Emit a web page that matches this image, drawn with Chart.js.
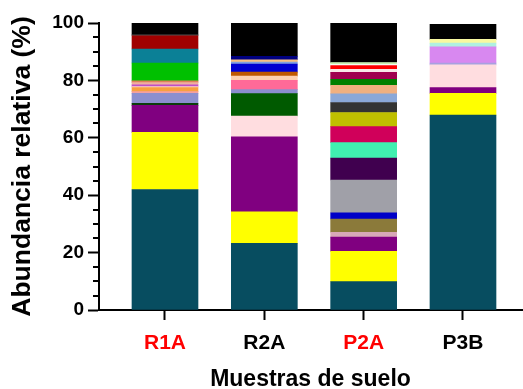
<!DOCTYPE html>
<html>
<head>
<meta charset="utf-8">
<script src="https://cdn.jsdelivr.net/npm/chart.js@4"></script>
<style>
  html, body { margin: 0; padding: 0; background: #ffffff; }
  #wrap { width: 523px; height: 389px; position: relative; }
</style>
</head>
<body>
<div id="wrap"><canvas id="chart" width="523" height="389"></canvas></div>
<script>
// Soil samples shown on the x axis and the colour of each sample label
const samples = ['R1A', 'R2A', 'P2A', 'P3B'];
const sampleLabelColors = ['#ff0000', '#000000', '#ff0000', '#000000'];
const yTickValues = [0, 20, 40, 60, 80, 100];

// Relative abundance (%) of each taxon, stacked bottom to top, per sample
const r1aValues = [42.0, 19.9, 9.4, 0.7, 3.5, 0.6, 1.4, 0.35, 0.6, 0.8, 0.6, 6.2, 4.9, 4.6, 0.3, 4.15];
const r2aValues = [23.2, 11.0, 26.1, 7.3, 7.8, 1.4, 3.2, 1.5, 1.4, 2.8, 0.7, 0.8, 1.2, 11.6];
const p2aValues = [9.9, 10.5, 5.0, 1.7, 4.6, 2.2, 11.4, 7.6, 5.4, 5.6, 4.9, 3.5, 3.0, 3.0, 2.1, 2.4, 1.1, 1.3, 0.35, 0.7, 13.75];
const p3bValues = [67.9, 7.6, 2.0, 7.9, 0.6, 5.7, 1.3, 1.3, 5.2];

// Segment colours, same order as the values above
const r1aColors = ['#074d60', '#ffff00', '#800080', '#0b3d0b', '#8b8fcf', '#f4a0a0', '#f8a040', '#ffd8c0',
  '#c050c8', '#f0b0a0', '#e0805a', '#00c000', '#0b8096', '#a00000', '#505050', '#000000'];
const r2aColors = ['#074d60', '#ffff00', '#800080', '#ffdde0', '#005a00', '#8b8fcf', '#ff6a98', '#ffd0b0',
  '#c05800', '#0000d0', '#80a0e0', '#f8c080', '#000080', '#000000'];
const p2aColors = ['#074d60', '#ffff00', '#800080', '#d8a8b8', '#8b7a3a', '#0000c8', '#a0a0a8', '#40004f',
  '#40f0b0', '#d0005a', '#c0c000', '#333333', '#8ba8d8', '#f0b080', '#008000', '#a0004f', '#f8e8e8',
  '#ff0000', '#ffffff', '#c8f0b0', '#000000'];
const p3bColors = ['#074d60', '#ffff00', '#800080', '#ffdde0', '#a8a0e0', '#d888f0', '#b0f0e0', '#f8f8a0', '#000000'];

const sampleValues = [r1aValues, r2aValues, p2aValues, p3bValues];
const sampleColors = [r1aColors, r2aColors, p2aColors, p3bColors];

// One stacked dataset per layer position
const layerCount = Math.max(...sampleValues.map(v => v.length));
const datasets = [];
for (let i = 0; i < layerCount; i++) {
  datasets.push({
    data: samples.map((s, j) => ({ x: j + 1, y: sampleValues[j][i] !== undefined ? sampleValues[j][i] : null })),
    backgroundColor: samples.map((s, j) => sampleColors[j][i] || 'rgba(0,0,0,0)'),
    borderWidth: 0,
    barThickness: 66
  });
}

// Short minor ticks every 5 % on the y axis
const minorTicks = {
  id: 'minorTicks',
  afterDraw(chart) {
    const y = chart.scales.y;
    const ctx = chart.ctx;
    const x0 = chart.chartArea.left;
    ctx.save();
    ctx.strokeStyle = '#000000';
    ctx.lineWidth = 2;
    for (let v = 5; v < 100; v += 5) {
      if (v % 20 === 0) continue;
      const py = Math.round(y.getPixelForValue(v));
      ctx.beginPath();
      ctx.moveTo(x0, py);
      ctx.lineTo(x0 - 6, py);
      ctx.stroke();
    }
    ctx.restore();
  }
};

new Chart(document.getElementById('chart'), {
  type: 'bar',
  data: { datasets },
  plugins: [minorTicks],
  options: {
    responsive: false,
    animation: false,
    layout: { padding: { top: 23, right: 1, left: 0, bottom: 0 } },
    plugins: { legend: { display: false }, tooltip: { enabled: false } },
    scales: {
      x: {
        type: 'linear',
        stacked: true,
        offset: false,
        min: 0.3356,
        max: 4.594,
        afterBuildTicks: s => { s.ticks = samples.map((n, i) => ({ value: i + 1 })); },
        afterFit: s => { s.height = 79; },
        border: { display: true, color: '#000000', width: 2 },
        grid: { offset: false, drawOnChartArea: false, drawTicks: true, tickLength: 10, tickWidth: 2, tickColor: '#000000' },
        ticks: {
          autoSkip: false,
          maxRotation: 0,
          padding: 11,
          font: { family: 'Liberation Sans', size: 21, weight: 'bold' },
          color: ctx => sampleLabelColors[ctx.index],
          callback: v => samples[v - 1]
        },
        title: {
          display: true,
          text: 'Muestras de suelo',
          font: { family: 'Liberation Sans', size: 23, weight: 'bold', lineHeight: 0.85 },
          color: '#000000',
          padding: { top: 2, bottom: 0 }
        }
      },
      y: {
        stacked: true,
        min: 0,
        max: 100,
        afterBuildTicks: s => { s.ticks = yTickValues.map(v => ({ value: v })); },
        afterFit: s => { s.width = 99; },
        border: { display: true, color: '#000000', width: 2 },
        grid: { drawOnChartArea: false, drawTicks: true, tickLength: 11, tickWidth: 2, tickColor: '#000000' },
        ticks: {
          padding: 4,
          font: { family: 'Liberation Sans', size: 19, weight: 'bold' },
          color: '#000000'
        },
        title: {
          display: true,
          text: 'Abundancia relativa (%)',
          font: { family: 'Liberation Sans', size: 26.5, weight: 'bold' },
          color: '#000000',
          padding: { top: 7, bottom: 0 }
        }
      }
    }
  }
});
</script>
</body>
</html>
